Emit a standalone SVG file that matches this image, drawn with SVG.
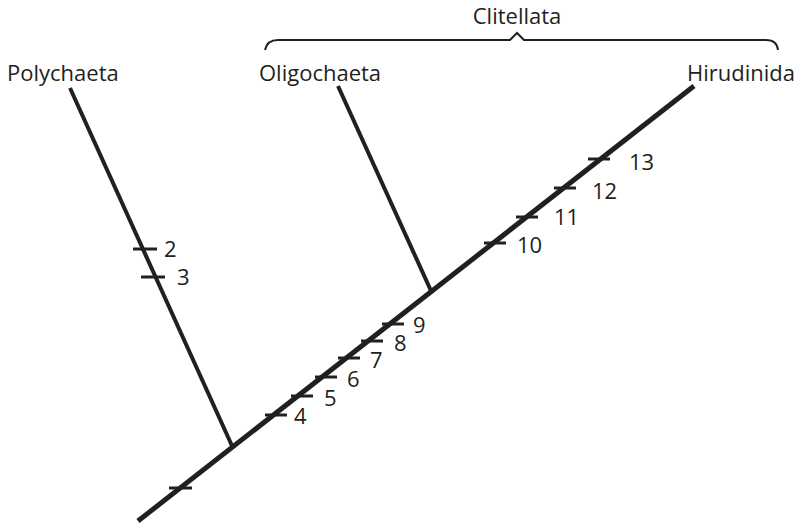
<svg xmlns="http://www.w3.org/2000/svg" width="797" height="523" viewBox="0 0 797 523">
<style>
text{font-family:"Open Sans","Liberation Sans",sans-serif;font-size:22px;fill:#231f20}
.br{stroke:#231f20;fill:none;stroke-linecap:butt}
.main{stroke-width:5}
.side{stroke-width:4}
.tick{stroke:#231f20;stroke-width:3}
</style>
<rect width="797" height="523" fill="#fff"/>
<g id="connectors">
<line class="br main" x1="138" y1="521" x2="694" y2="86"/>
<line class="br side" x1="70" y1="88" x2="233" y2="448"/>
<line class="br side" x1="338" y1="86" x2="432" y2="293"/>
<path class="br" stroke-width="2" d="M265,50 Q267,40 278,40 L510,40 L517,33 L524,40 L766,40 Q777,40 778,50"/>
</g>
<g id="ticks">
<line class="tick" x1="133" y1="249" x2="157" y2="249"/>
<line class="tick" x1="141" y1="277" x2="165" y2="277"/>
<line class="tick" x1="169" y1="488" x2="192" y2="488"/>
<line class="tick" x1="265" y1="415" x2="287" y2="415"/>
<line class="tick" x1="291" y1="396" x2="313" y2="396"/>
<line class="tick" x1="315" y1="377" x2="337" y2="377"/>
<line class="tick" x1="338" y1="358" x2="360" y2="358"/>
<line class="tick" x1="361" y1="341" x2="383" y2="341"/>
<line class="tick" x1="382" y1="324" x2="404" y2="324"/>
<line class="tick" x1="484" y1="243" x2="506" y2="243"/>
<line class="tick" x1="516" y1="217" x2="538" y2="217"/>
<line class="tick" x1="554" y1="188" x2="576" y2="188"/>
<line class="tick" x1="588" y1="159" x2="610" y2="159"/>
</g>
<g id="Polychaeta"><text x="7" y="81">Polychaeta</text></g>
<g id="Oligochaeta"><text x="259" y="81">Oligochaeta</text></g>
<g id="Hirudinida"><text x="795" y="81" text-anchor="end">Hirudinida</text></g>
<g id="Clitellata"><text x="517" y="24" text-anchor="middle">Clitellata</text></g>
<g id="labels">
<text x="164" y="257">2</text>
<text x="177" y="285">3</text>
<text x="294" y="424">4</text>
<text x="324" y="406">5</text>
<text x="347" y="387">6</text>
<text x="370" y="368">7</text>
<text x="394" y="351">8</text>
<text x="413" y="333">9</text>
<text x="517" y="253">10</text>
<text x="554" y="225">11</text>
<text x="592" y="199">12</text>
<text x="629" y="170">13</text>
</g>
</svg>
